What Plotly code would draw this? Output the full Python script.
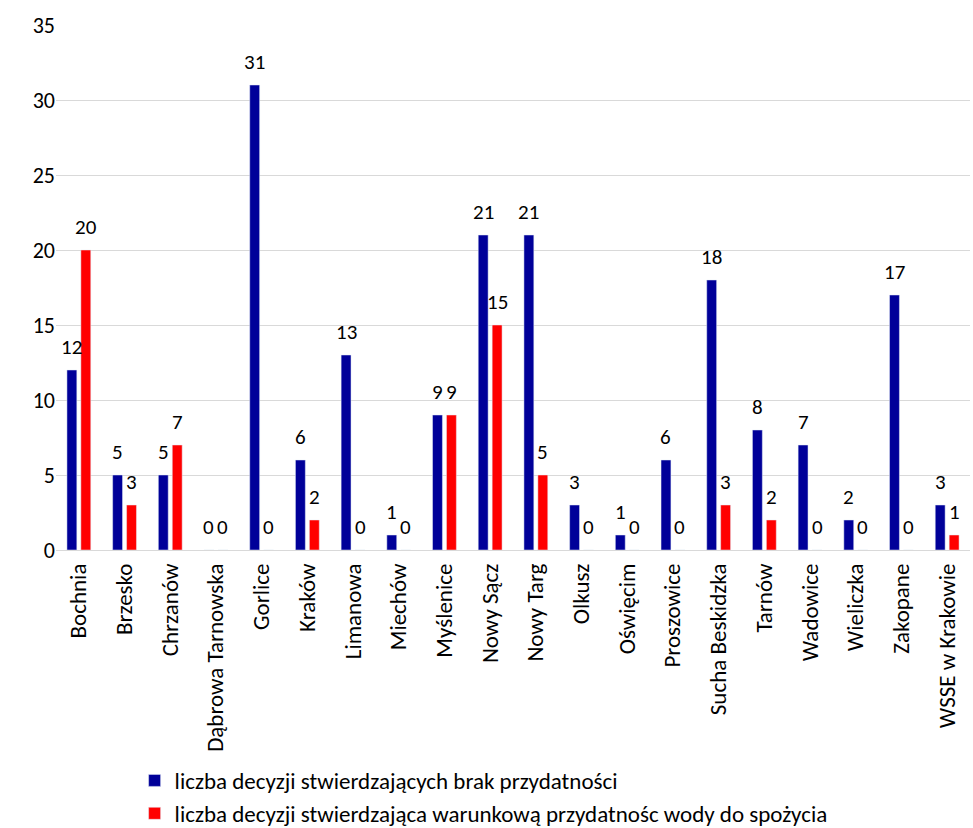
import plotly.graph_objects as go

categories = ["Bochnia", "Brzesko", "Chrzanów", "Dąbrowa Tarnowska", "Gorlice", "Kraków",
              "Limanowa", "Miechów", "Myślenice", "Nowy Sącz", "Nowy Targ", "Olkusz",
              "Oświęcim", "Proszowice", "Sucha Beskidzka", "Tarnów", "Wadowice",
              "Wieliczka", "Zakopane", "WSSE w Krakowie"]
brak = [12, 5, 5, 0, 31, 6, 13, 1, 9, 21, 21, 3, 1, 6, 18, 8, 7, 2, 17, 3]
warunkowa = [20, 3, 7, 0, 0, 2, 0, 0, 9, 15, 5, 0, 0, 0, 3, 2, 0, 0, 0, 1]
y_ticks = [0, 5, 10, 15, 20, 25, 30, 35]

series = [
    ("liczba decyzji stwierdzających brak przydatności", brak, "#000099", -7),
    ("liczba decyzji stwierdzająca warunkową przydatnośc wody do spożycia", warunkowa, "#FF0000", 7),
]

font_family = "Carlito, Calibri, Lato, 'Open Sans', sans-serif"

fig = go.Figure()
for name, values, color, shift in series:
    fig.add_trace(go.Bar(x=categories, y=values, name=name, marker_color=color))
    # value labels sit a little above each bar, centred on it
    for cat, v in zip(categories, values):
        fig.add_annotation(x=cat, y=v, text=str(v), showarrow=False,
                           xref="x", yref="y", xanchor="center", yanchor="bottom",
                           xshift=shift, yshift=8,
                           font=dict(size=21, color="#000000"))

fig.update_layout(
    width=973, height=828,
    margin=dict(l=56, r=3, t=25, b=278, autoexpand=False),
    paper_bgcolor="white", plot_bgcolor="white",
    font=dict(family=font_family, size=21, color="#000000"),
    barmode="group", bargap=0.39, bargroupgap=0.29,
    showlegend=True,
    legend=dict(x=0.086, y=-0.398, xanchor="left", yanchor="top",
                orientation="v", font=dict(size=23), itemwidth=30,
                tracegroupgap=0),
    xaxis=dict(tickangle=-90, showgrid=False, showline=False, ticks="",
               tickfont=dict(size=23), automargin=False, ticklabelstandoff=8),
    yaxis=dict(range=[0, 35], tickvals=y_ticks, showgrid=True, gridcolor="#d9d9d9",
               gridwidth=1, zeroline=True, zerolinecolor="#d9d9d9", zerolinewidth=1,
               showline=False, ticks="", tickfont=dict(size=22), automargin=False),
)

fig.write_html("out.html")
